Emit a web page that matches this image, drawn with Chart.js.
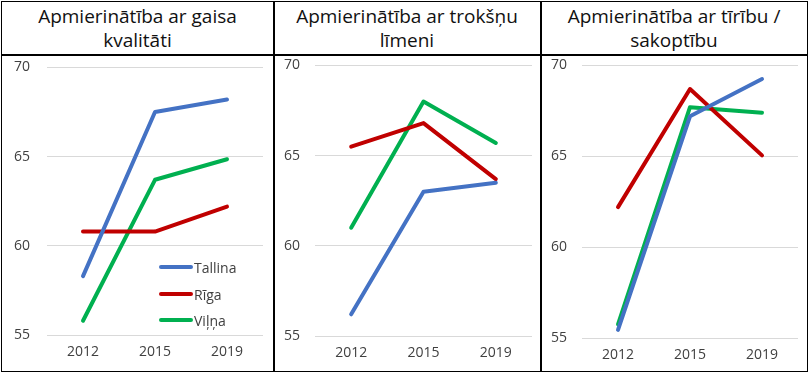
<!DOCTYPE html>
<html><head><meta charset="utf-8">
<script src="https://cdn.jsdelivr.net/npm/chart.js@4/dist/chart.umd.min.js"></script>
<style>
html,body{margin:0;padding:0;background:#fff;width:809px;height:374px;overflow:hidden;font-family:"Open Sans",sans-serif;}
.cell{position:absolute;box-sizing:border-box;}
.hdr{display:flex;align-items:center;justify-content:center;text-align:center;font-size:19px;line-height:24px;color:#111;}
.leg{position:absolute;font-size:14px;color:#404040;display:flex;align-items:center;}
.leg span.sw{display:inline-block;width:34px;height:4px;border-radius:2px;margin-right:1px;}
canvas{display:block;}
</style></head>
<body>
<div id="frame"></div>
<script>
// ---- data ----
const years = ['2012', '2015', '2019'];
const seriesNames = ['Tallina', 'Rīga', 'Viļņa'];
const seriesColors = ['#4472C4', '#C00000', '#00B050'];
const titles = [
  ['Apmierinātība ar gaisa', 'kvalitāti'],
  ['Apmierinātība ar trokšņu', 'līmeni'],
  ['Apmierinātība ar tīrību /', 'sakoptību']
];
// panel 1: gaisa kvalitāte
const airTallina = [58.3, 67.5, 68.2];
const airRiga    = [60.8, 60.8, 62.2];
const airVilna   = [55.8, 63.7, 64.85];
// panel 2: trokšņu līmenis
const noiseTallina = [56.2, 63.0, 63.5];
const noiseRiga    = [65.5, 66.8, 63.7];
const noiseVilna   = [61.0, 68.0, 65.7];
// panel 3: tīrība / sakoptība
const cleanTallina = [55.45, 67.2, 69.25];
const cleanRiga    = [62.2, 68.7, 65.05];
const cleanVilna   = [55.75, 67.7, 67.4];
const yMin = 55, yMax = 70, yStep = 5;

const panelData = [
  [airTallina, airRiga, airVilna],
  [noiseTallina, noiseRiga, noiseVilna],
  [cleanTallina, cleanRiga, cleanVilna]
];

// ---- layout ----
const frame = document.getElementById('frame');
const colX = [1, 273, 540, 807];
const rowY = [1, 54, 371];
const border = '#000';
function div(cls, l, t, w, h, css) {
  const d = document.createElement('div');
  d.className = cls;
  Object.assign(d.style, {left: l + 'px', top: t + 'px', width: w + 'px', height: h + 'px'}, css || {});
  frame.appendChild(d);
  return d;
}
// borders
div('cell', colX[0], rowY[0], colX[3] - colX[0] + 1, rowY[2] - rowY[0] + 1, {border: '1.5px solid ' + border});
div('cell', colX[0], rowY[1], colX[3] - colX[0], 1.5, {background: border});
div('cell', colX[1], rowY[0], 1.5, rowY[2] - rowY[0], {background: border});
div('cell', colX[2], rowY[0], 1.5, rowY[2] - rowY[0], {background: border});

// panel geometry (canvas box, chart area insets)
const panels = [
  {left: 2, width: 271, yW: 45, right: 10, top: 4, bottom: 35, pad: 17},
  {left: 274, width: 266, yW: 41, right: 8, top: 4, bottom: 34, pad: 15},
  {left: 541, width: 265, yW: 41, right: 8, top: 4, bottom: 32, pad: 15}
];
const canvasTop = 42, canvasH = 328;

panels.forEach((p, i) => {
  const h = div('cell hdr', colX[i] + 1, rowY[0] + 1, colX[i + 1] - colX[i] - 1, rowY[1] - rowY[0] - 1);
  h.innerHTML = titles[i][0] + '<br>' + titles[i][1];
  const wrap = div('cell', p.left, canvasTop, p.width, canvasH);
  const cv = document.createElement('canvas');
  cv.width = p.width; cv.height = canvasH;
  cv.style.width = p.width + 'px';
  cv.style.height = canvasH + 'px';
  wrap.appendChild(cv);
  new Chart(cv, {
    type: 'line',
    data: {
      labels: years,
      datasets: seriesNames.map((n, k) => ({
        label: n, data: panelData[i][k], borderColor: seriesColors[k], backgroundColor: seriesColors[k],
        borderWidth: 4, pointRadius: 0, tension: 0, borderCapStyle: 'round', borderJoinStyle: 'round'
      }))
    },
    options: {
      responsive: false, animation: false, maintainAspectRatio: false,
      devicePixelRatio: 1,
      layout: {padding: {top: p.top, right: p.right, left: 0, bottom: 0}},
      plugins: {legend: {display: false}, tooltip: {enabled: false}},
      scales: {
        x: {
          offset: true,
          grid: {display: false, drawTicks: false},
          border: {display: false},
          ticks: {color: '#404040', font: {family: 'Open Sans', size: 14}, padding: 9},
          afterFit: s => { s.height = p.bottom; }
        },
        y: {
          min: yMin, max: yMax,
          grid: {color: '#d9d9d9', lineWidth: 1, drawTicks: false},
          border: {display: false},
          ticks: {stepSize: yStep, color: '#404040', font: {family: 'Open Sans', size: 14}, padding: p.pad},
          afterFit: s => { s.width = p.yW; }
        }
      }
    }
  });
});

// legend in panel 1
const legTops = [267, 294, 320];
seriesNames.forEach((n, k) => {
  const l = div('leg', 159, legTops[k] - 10, 100, 20);
  l.innerHTML = '<span class="sw" style="background:' + seriesColors[k] + '"></span>' + n;
});
</script>
</body></html>
